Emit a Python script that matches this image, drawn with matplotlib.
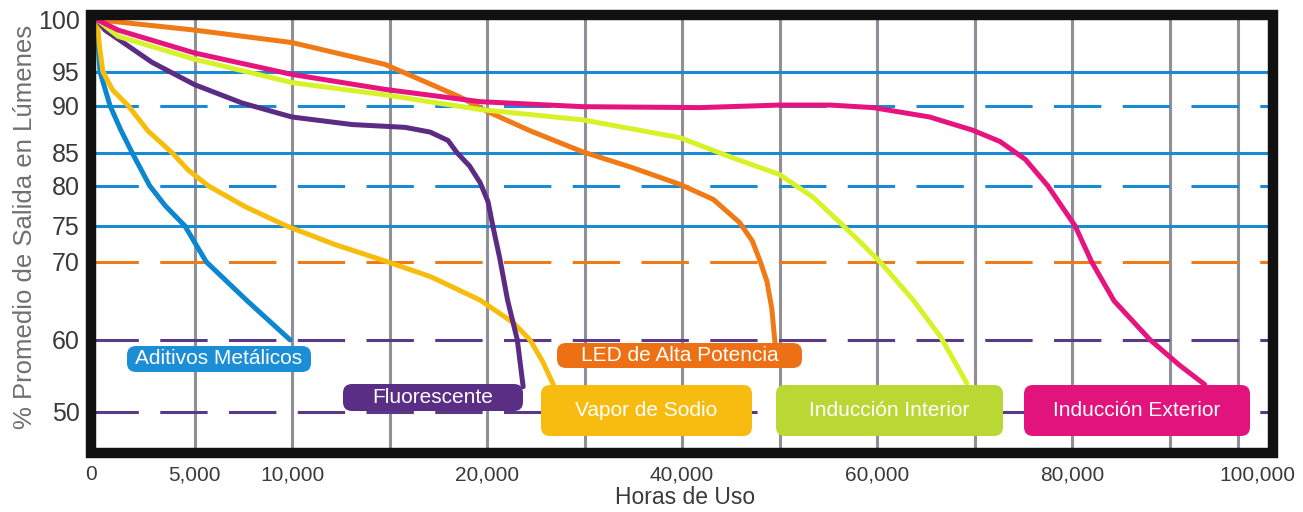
"""Lumen maintenance chart: % average lumen output vs hours of use."""

import numpy as np
import matplotlib

matplotlib.use("Agg")
import matplotlib.pyplot as plt
from matplotlib.patches import FancyBboxPatch, Rectangle
from matplotlib.transforms import IdentityTransform, ScaledTranslation

SANS = ["Liberation Sans", "DejaVu Sans"]

# ---- data (hours, percent) ----
aditivos_h = [0, 60, 150, 667, 1200, 1800, 2700, 3500, 4500, 5600, 7700, 9900]
aditivos_p = [100, 97.5, 95, 90, 87.5, 85, 80, 77.5, 75, 70, 65, 60]

sodio_h = [0, 120, 300, 800, 1600, 2620, 3850, 4670, 5700, 7590, 9700, 12200, 14900, 17100, 19640, 22700,
           24400, 25700, 26800]
sodio_p = [100, 97.5, 95, 92.3, 90, 87.3, 85, 82.4, 80, 77.4, 75, 72.4, 70, 68.1, 65.1, 62.2,
           60, 57, 53.8]

fluor_h = [0, 410, 1500, 2820, 5000, 7440, 10000, 13080, 15800, 17080, 18000, 18460, 19100, 19640, 20100,
           20600, 21300, 22100, 23100, 23700]
fluor_p = [100, 99.0, 97.6, 95.9, 93.1, 90.4, 88.8, 88.0, 87.7, 87.2, 86.3, 85, 83.0, 80.5, 78.0,
           74.9, 70.5, 65.1, 60, 53.5]

led_h = [0, 5000, 10000, 14770, 16200, 18600, 20000, 24500, 29800, 34800, 39800, 43200, 45900, 47200,
         48000, 48700, 49200, 49500, 49600]
led_p = [100, 99.0, 97.8, 95.7, 94.3, 91.3, 89.4, 87.3, 85.1, 82.8, 80.2, 78.3, 75.4, 72.9,
         70.1, 67.5, 64.0, 60, 58.6]

interior_h = [0, 1080, 5000, 10000, 14770, 19640, 29800, 39800, 44900, 50000, 53400, 56200, 58300, 60300,
              63700, 66500, 69200]
interior_p = [100, 98.4, 96.2, 93.4, 91.6, 89.6, 88.5, 86.6, 84.4, 81.7, 78.6, 75.4, 72.7, 70,
              65.1, 60.4, 54.0]

exterior_h = [0, 1080, 5000, 10000, 14770, 19640, 29800, 41800, 50000, 55200, 59600, 65400, 69800, 72600,
              75200, 77500, 80300, 82000, 84300, 88000, 91000, 93600]
exterior_p = [100, 99.0, 96.8, 94.6, 92.4, 90.6, 89.9, 89.8, 90.1, 90.1, 89.8, 88.8, 87.4, 86.2,
              84.0, 80, 75, 70, 65, 60, 56.5, 53.8]

x_ticks = [0, 5000, 10000, 20000, 40000, 60000, 80000, 100000]
x_labels = ["0", "5,000", "10,000", "20,000", "40,000", "60,000", "80,000", "100,000"]
x_grid = [5000, 10000, 15000, 20000, 30000, 40000, 50000, 60000, 70000, 80000, 90000, 97000]
y_ticks = [50, 60, 70, 75, 80, 85, 90, 95, 100]

solid_refs = [95, 85, 75]
dashed_refs = [90, 80, 70, 60, 50]

series = [
    ("Aditivos Metálicos", aditivos_h, aditivos_p, "#0b86cf"),
    ("Vapor de Sodio", sodio_h, sodio_p, "#f7bd0c"),
    ("Fluorescente", fluor_h, fluor_p, "#5c2c84"),
    ("LED de Alta Potencia", led_h, led_p, "#f07a16"),
    ("Inducción Interior", interior_h, interior_p, "#d8f22a"),
    ("Inducción Exterior", exterior_h, exterior_p, "#e5147f"),
]


# ---- piecewise scales as in the original artwork ----
def x_fwd(h):
    h = np.asarray(h, dtype=float)
    return np.where(h <= 20000, h / 5000.0, 4 + (h - 20000) / 10000.0)


def x_inv(u):
    u = np.asarray(u, dtype=float)
    return np.where(u <= 4, u * 5000.0, 20000 + (u - 4) * 10000.0)


Y_VAL = [40, 50, 60, 70, 75, 80, 85, 90, 95, 100, 105]
Y_POS = [-72, 0, 72, 150, 186, 226, 259, 306, 340, 392, 444]


def y_fwd(v):
    return np.interp(v, Y_VAL, Y_POS)


def y_inv(p):
    return np.interp(p, Y_POS, Y_VAL)


W, H = 1303, 512
fig = plt.figure(figsize=(W / 100, H / 100), dpi=100)
ax = fig.add_axes([91 / W, 1 - 453 / H, (1273 - 91) / W, (453 - 15) / H])
ax.set_xscale("function", functions=(x_fwd, x_inv))
ax.set_yscale("function", functions=(y_fwd, y_inv))
ax.set_xlim(-310, 100600)
ax.set_ylim(44.3, 100.45)

for h in x_grid:
    ax.axvline(h, color="#8f8f98", linewidth=2.2, zorder=1)

blue = "#1a8ad3"
ref_color = {95: blue, 90: blue, 85: blue, 80: blue, 75: blue, 70: "#f07a16", 60: "#5a3a86", 50: "#5a3a86"}
for v in solid_refs:
    ax.axhline(v, color=ref_color[v], linewidth=2.2, zorder=2)
for v in dashed_refs:
    ax.axhline(v, color=ref_color[v], linewidth=2.2, dashes=(15.5, 7.0), zorder=2)

for name, hours, pct, color in series:
    ax.plot(hours, pct, color=color, linewidth=3.6, solid_capstyle="round", solid_joinstyle="round", zorder=4)

# thick black frame
for side in ax.spines.values():
    side.set_visible(False)
ax.add_patch(Rectangle((0, 0), 1, 1, transform=ax.transAxes, fill=False, edgecolor="#111111",
                       linewidth=7.5, joinstyle="miter", clip_on=False, zorder=6))

ax.set_xticks(x_ticks)
ax.set_xticklabels(x_labels)
ax.set_yticks(y_ticks)
ax.set_yticklabels([str(v) for v in y_ticks])
ax.minorticks_off()
ax.tick_params(axis="x", length=0, pad=9, labelsize=15, labelcolor="#3a3a3a")
ax.tick_params(axis="y", length=0, pad=8, labelsize=18, labelcolor="#3a3a3a")
for lbl in ax.get_xticklabels() + ax.get_yticklabels():
    lbl.set_family(SANS)
# nudge the first and last hour labels as in the original artwork
xt = ax.get_xticklabels()
xt[0].set_transform(xt[0].get_transform() + ScaledTranslation(-6 / 100, 0, fig.dpi_scale_trans))
xt[-1].set_transform(xt[-1].get_transform() + ScaledTranslation(-10 / 100, 0, fig.dpi_scale_trans))

ax.set_ylabel("% Promedio de Salida en Lúmenes", fontsize=18.5, color="#707070", family=SANS)
ax.yaxis.set_label_coords(-0.046, 0.516)
ax.set_xlabel("Horas de Uso", fontsize=16.5, color="#3a3a3a", family=SANS)
ax.xaxis.set_label_coords(0.5025, -0.075)

# ---- rounded name tags (pixel boxes: left, top, right, bottom) ----
tags = [
    ("Aditivos Metálicos", (127, 346, 311, 372), "#1b8ed6"),
    ("Fluorescente", (343, 384, 523, 411), "#5a2e84"),
    ("LED de Alta Potencia", (557, 343, 802, 368), "#ee7014"),
    ("Vapor de Sodio", (541, 385, 752, 436), "#f8bb10"),
    ("Inducción Interior", (776, 385, 1003, 436), "#b9d834"),
    ("Inducción Exterior", (1024, 385, 1250, 436), "#e2137c"),
]
px = IdentityTransform()
for text, (l, t, r, b), color in tags:
    box = FancyBboxPatch((l, H - b), r - l, b - t, boxstyle="round,pad=0,rounding_size=9",
                         transform=px, facecolor=color, edgecolor="none", zorder=7)
    fig.patches.append(box)
    fig.text((l + r) / 2, H - (t + b) / 2, text, transform=px, ha="center", va="center",
             color="white", fontsize=15, family=SANS, zorder=8)

fig.savefig("out.png", dpi=100)
